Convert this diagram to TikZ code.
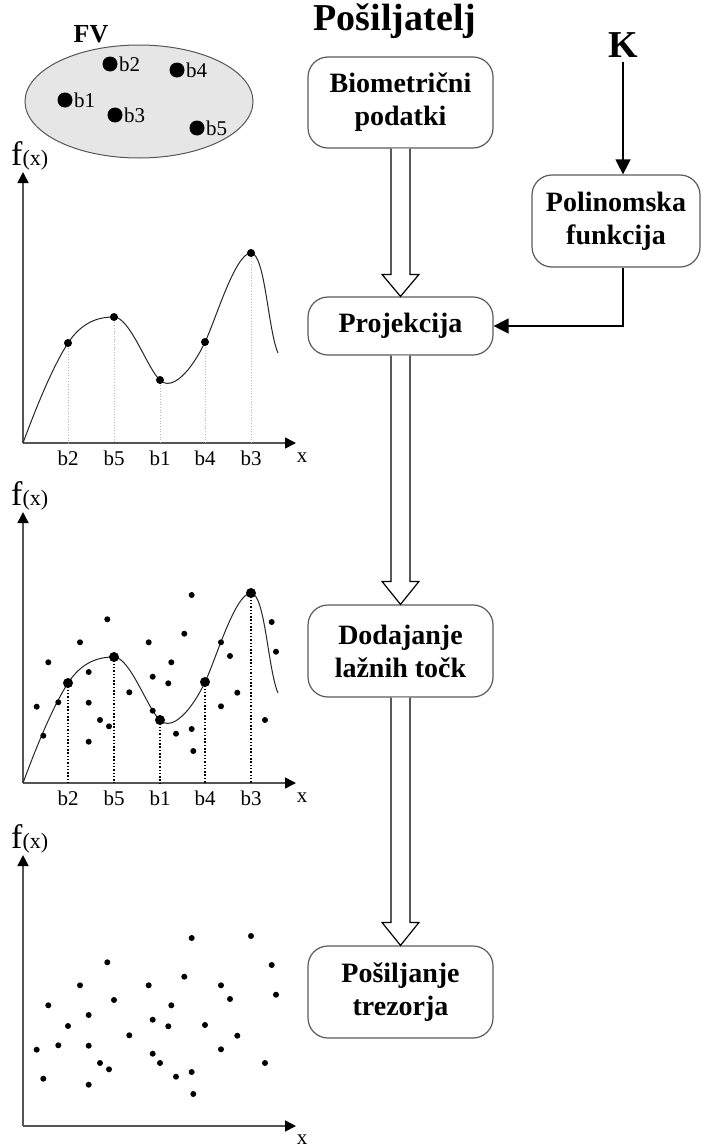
\documentclass[tikz,border=0pt]{standalone}
\usepackage{fontspec}
\setmainfont{Liberation Serif}
\usetikzlibrary{arrows.meta,shapes.geometric}
\definecolor{axisgray}{HTML}{555555}
\definecolor{boxgray}{HTML}{5A5A5A}
\definecolor{ellfill}{HTML}{E6E6E6}
\newcommand\mycurve{(23,443) .. controls (36,408) and (52,368) .. (68,343) .. controls (82,322) and (98,317) .. (114,317) .. controls (130,317) and (148,370) .. (160,380) .. controls (172,392) and (192,370) .. (205,342) .. controls (215,322) and (235,253) .. (251,253) .. controls (265,253) and (268,330) .. (278,353)}
\newcommand\chafflist{36.7/366.7,43.3/395.7,48.3/322.3,58.3/362.3,80/302.3,88.7/332,88.7/362.7,88.7/401.7,100/380,107.3/279.3,109/386.3,129.3/352.3,148.7/302.3,152.7/336.7,152.7/370.7,168.3/343.3,171.3/322.3,176/393.7,184.3/293.7,191.7/255,191.7/389,193.3/411,221/302.3,221/366.3,230/316,237.3/352.7,265/380,271.7/282,276/311.7}
\newcommand\genlist{68/343,114/317,160/380,205/342,251/253}
\begin{document}
\begin{tikzpicture}[x=1pt,y=-1pt,
  box/.style={draw=boxgray, line width=1.2pt, rounded corners=20pt, fill=white,
    align=center, font=\bfseries\fontsize{28}{33}\selectfont, inner sep=0pt,
    minimum width=185pt},
  hollow/.style={draw=black, line width=1.2pt, fill=white, line join=miter},
  arr/.style={draw=black, line width=1.4pt, -{Triangle[length=15pt,width=15pt]}},
  axis/.style={draw=axisgray, line width=1.6pt, -{Triangle[length=11pt,width=11pt,color=black]}},
  lbl/.style={inner sep=0pt, font=\fontsize{21}{21}\selectfont},
  fx/.style={inner sep=0pt, anchor=base west},
]
\useasboundingbox (0,0) rectangle (702,1146);

% ---------- feature vector ellipse ----------
\node[ellipse, draw=axisgray, line width=1pt, fill=ellfill, minimum width=228pt,
  minimum height=113pt, inner sep=0pt] (fv) at (139,101.5) {};
\node[inner sep=0pt, font=\bfseries\fontsize{26}{26}\selectfont] (fvl) at (91,34) {FV};
\foreach \x/\y/\t in {110/64/b2,177/70/b4,65/100/b1,115/115/b3,197/128/b5}{
  \fill (\x,\y) circle (7.5);
  \node[lbl, anchor=west] (e\t) at (\x+9,\y) {\t};
}

% ---------- graph 1 ----------
\node[fx] (fx1) at (11,165) {\fontsize{34}{34}\selectfont f\fontsize{22}{22}\selectfont(x)};
\draw[axis] (23,443) -- (23,172);
\draw[axis] (23,443) -- (296,443);
\foreach \x/\y in \genlist {
  \draw[gray!55, line width=0.7pt, dotted] (\x,\y) -- (\x,443);
}
\draw[line width=1pt, black!85] \mycurve;
\foreach \x/\y in \genlist { \fill (\x,\y) circle (4); }
\foreach \x/\t in {68/b2,114/b5,160/b1,205/b4,251/b3} { \node[lbl] (ga\t) at (\x,458) {\t}; }
\node[lbl] (gax) at (302,458) {x};

% ---------- graph 2 ----------
\begin{scope}[shift={(0,340)}]
\node[fx] (fx2) at (11,165) {\fontsize{34}{34}\selectfont f\fontsize{22}{22}\selectfont(x)};
\draw[axis] (23,443) -- (23,172);
\draw[axis] (23,443) -- (296,443);
\foreach \x/\y in \genlist {
  \draw[black, line width=1.3pt, dash pattern=on 1.5pt off 1.8pt] (\x,\y) -- (\x,443);
}
\draw[line width=1pt, black!85] \mycurve;
\foreach \x/\y in \chafflist { \fill (\x,\y) circle (3); }
\foreach \x/\y in \genlist { \fill (\x,\y) circle (5); }
\foreach \x/\t in {68/b2,114/b5,160/b1,205/b4,251/b3} { \node[lbl] (gb\t) at (\x,458) {\t}; }
\node[lbl] (gbx) at (302,458) {x};
\end{scope}

% ---------- graph 3 ----------
\begin{scope}[shift={(0,683)}]
\node[fx] (fx3) at (11,165) {\fontsize{34}{34}\selectfont f\fontsize{22}{22}\selectfont(x)};
\draw[axis] (23,443) -- (23,172);
\draw[axis] (23,443) -- (296,443);
\foreach \x/\y in \chafflist { \fill (\x,\y) circle (3); }
\foreach \x/\y in \genlist { \fill (\x,\y) circle (3); }
\node[lbl] (gcx) at (302,457) {x};
\end{scope}

% ---------- flowchart ----------
\node[inner sep=0pt, anchor=base, font=\bfseries\fontsize{38}{38}\selectfont] (title) at (395,30) {Pošiljatelj};
\node[inner sep=0pt, font=\bfseries\fontsize{38}{38}\selectfont] (K) at (623,45) {K};

\node[box, minimum height=91pt] (bio) at (400.5,102.5) {Biometrični\\podatki};
\node[box, minimum width=168pt, minimum height=92pt] (poly) at (616,221) {Polinomska\\funkcija};
\node[box, minimum height=58pt] (proj) at (400.5,326) {Projekcija};
\node[box, minimum height=92pt] (dod) at (400.5,651) {Dodajanje\\lažnih točk};
\node[box, minimum height=92pt] (pos) at (400.5,992) {Pošiljanje\\trezorja};

\draw[arr] ([yshift=-4pt]K.south) -- (K.south |- poly.north);
\draw[arr] (K.south |- poly.south) |- (proj.east);

\foreach \a/\b/\h in {bio/proj/22,proj/dod/23,dod/pos/23}{
  \draw[hollow] ([xshift=-9.5pt]\a.south) -- ([shift={(-9.5,-\h)}]\b.north)
    -- ([shift={(-18.5,-\h)}]\b.north) -- (\b.north)
    -- ([shift={(18.5,-\h)}]\b.north) -- ([shift={(9.5,-\h)}]\b.north)
    -- ([xshift=9.5pt]\a.south);
}
\end{tikzpicture}
\end{document}
